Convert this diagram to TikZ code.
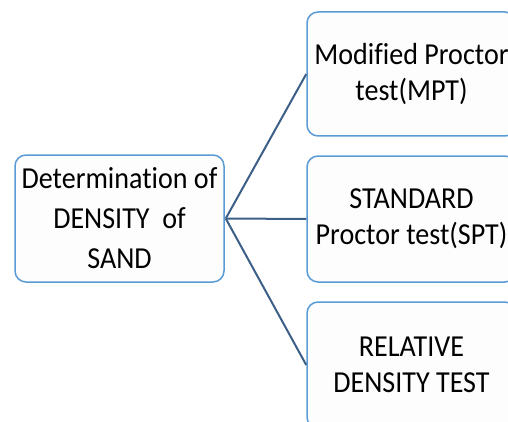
\documentclass[tikz,border=0pt]{standalone}
\usepackage{fontspec}
\setmainfont[FakeStretch=0.92,Ligatures={NoCommon}]{Carlito}
\definecolor{boxline}{RGB}{91,155,213}
\definecolor{conn}{RGB}{60,95,135}
\definecolor{boxfill}{RGB}{253,253,253}
\begin{document}
\begin{tikzpicture}[x=1pt,y=1pt,
  tbox/.style={draw=boxline, line width=1.5pt, fill=boxfill, rounded corners=11pt,
    minimum width=209pt, align=center, inner sep=0pt,
    font=\fontsize{30.5}{36}\selectfont},
  conline/.style={draw=conn, line width=2pt}]
\useasboundingbox (0,0) rectangle (508,421);
\clip (0,0) rectangle (508,421);
\node[tbox, minimum height=127pt, font=\fontsize{30.5}{40}\selectfont] (root) at (119.5,202.5) {Determination of\\DENSITY\ \ of\\SAND};
\node[tbox, minimum height=124pt] (mpt) at (411.5,347) {Modified Proctor\\test(MPT)};
\node[tbox, minimum height=126pt] (spt) at (411.5,202) {STANDARD\\Proctor test(SPT)};
\node[tbox, minimum height=126pt] (rdt) at (411.5,56) {RELATIVE\\DENSITY TEST};
\coordinate (hub) at ([xshift=1pt]root.east);
\draw[conline] (hub) -- (mpt.west);
\draw[conline] (hub) -- (spt.west);
\draw[conline] (hub) -- (rdt.west);
\end{tikzpicture}
\end{document}
